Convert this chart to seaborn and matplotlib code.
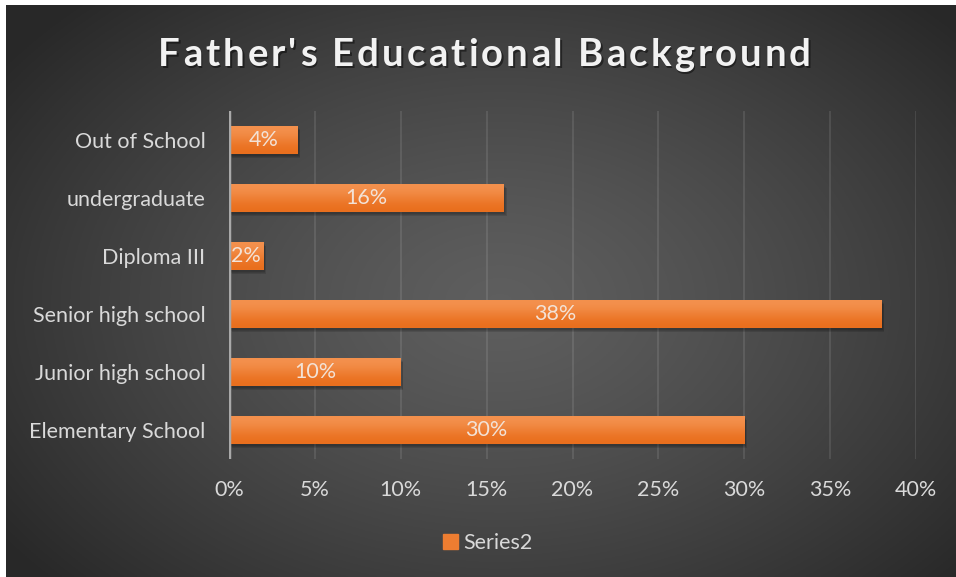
import numpy as np
import pandas as pd
import matplotlib.pyplot as plt
import seaborn as sns
from matplotlib.patches import Rectangle, Patch
from matplotlib.ticker import FuncFormatter

# data (top to bottom, as shown)
categories = ["Out of School", "undergraduate", "Diploma III",
              "Senior high school", "Junior high school", "Elementary School"]
values = [4, 16, 2, 38, 10, 30]
x_ticks = [0, 5, 10, 15, 20, 25, 30, 35, 40]
title = "Father's Educational Background"
series_name = "Series2"

sns.set_style("white")
plt.rcParams['font.family'] = ['Lato', 'DejaVu Sans']

W, H = 956, 577
fig = plt.figure(figsize=(W / 100, H / 100), dpi=100)
fig.patch.set_facecolor("white")

# dark radial background card
bg = fig.add_axes([6 / W, 0, (W - 6) / W, (H - 5) / H])
yy, xx = np.mgrid[0:1:300j, 0:1:500j]
r = np.sqrt(((xx - 0.52) / 0.75) ** 2 + ((yy - 0.52) / 0.85) ** 2)
r = np.clip(r / 0.85, 0, 1)
shade = 0.37 - 0.21 * r ** 1.3
bg.imshow(np.dstack([shade] * 3), aspect="auto", extent=[0, 1, 0, 1])
bg.set_axis_off()
bg.set_zorder(-5)

ax = fig.add_axes([229 / W, (H - 459) / H, (916 - 229) / W, (459 - 111) / H])
ax.patch.set_alpha(0)

df = pd.DataFrame({"level": categories, "pct": values})
sns.barplot(data=df, x="pct", y="level", orient="h", color="#ED7D31",
            width=0.48, linewidth=0, ax=ax, zorder=3)

ax.set_xlim(0, 40)
ylim = ax.get_ylim()

# bar gradients + soft shadow
grad = np.array([[[0.957, 0.573, 0.310]], [[0.914, 0.431, 0.110]]])
for p in ax.patches:
    x0, y0, w, h = p.get_x(), p.get_y(), p.get_width(), p.get_height()
    for k, a in enumerate([0.10, 0.10, 0.12]):
        sh = Rectangle((x0 + 0.08 + 0.04 * k, y0 + 0.03 + 0.02 * k), w, h,
                       color="black", alpha=a, lw=0, zorder=2)
        ax.add_patch(sh)
    im = ax.imshow(grad, extent=[x0, x0 + w, y0 + h, y0], origin="upper",
                   aspect="auto", zorder=3.5, interpolation="bicubic")
    im.set_clip_path(p)
ax.set_xlim(0, 40)
ax.set_ylim(ylim)

ax.bar_label(ax.containers[0], labels=[f"{v}%" for v in values],
             label_type="center", color="#f3e2d6", fontsize=15.5, zorder=5)

ax.set_xticks(x_ticks)
ax.xaxis.set_major_formatter(FuncFormatter(lambda v, _: f"{v:.0f}%"))
for xv in x_ticks[1:]:
    ax.axvline(xv, color="white", alpha=0.11, lw=1.3, zorder=1)
ax.axvline(0, color="#a9a9a9", lw=2.5, zorder=4)

ax.set_xlabel("")
ax.set_ylabel("")
sns.despine(ax=ax, left=True, bottom=True)
ax.tick_params(axis="both", length=0, labelcolor="#d9d9d9", labelsize=15.5)
ax.tick_params(axis="y", pad=17)
ax.tick_params(axis="x", pad=15)

ax.legend(handles=[Patch(color="#ED7D31", label=series_name)], loc="center",
          bbox_to_anchor=(488 / W, (H - 543) / H), bbox_transform=fig.transFigure,
          frameon=False, labelcolor="#d9d9d9", fontsize=15.5, handlelength=0.7,
          handleheight=0.7, handletextpad=0.25)

# letter-spaced title, placed char by char
renderer = fig.canvas.get_renderer()
tkw = dict(fontsize=27.5, fontweight="bold")


def text_width(s):
    if not s:
        return 0.0
    t = fig.text(0, 0, s, **tkw)
    wd = t.get_window_extent(renderer).width
    t.remove()
    return wd


x_left, x_right, y_base = 158, 811, H - 66
natural = text_width(title)
track = (x_right - x_left - natural) / (len(title) - 1)
for i, ch in enumerate(title):
    if ch == " ":
        continue
    xp = x_left + text_width(title[:i]) + track * i
    fig.text((xp + 1.5) / W, (y_base - 1.5) / H, ch, color="black", alpha=0.45,
             va="baseline", ha="left", **tkw)
    fig.text(xp / W, y_base / H, ch, color="#f2f2f2", va="baseline", ha="left", **tkw)

fig.savefig("out.png", dpi=100)
